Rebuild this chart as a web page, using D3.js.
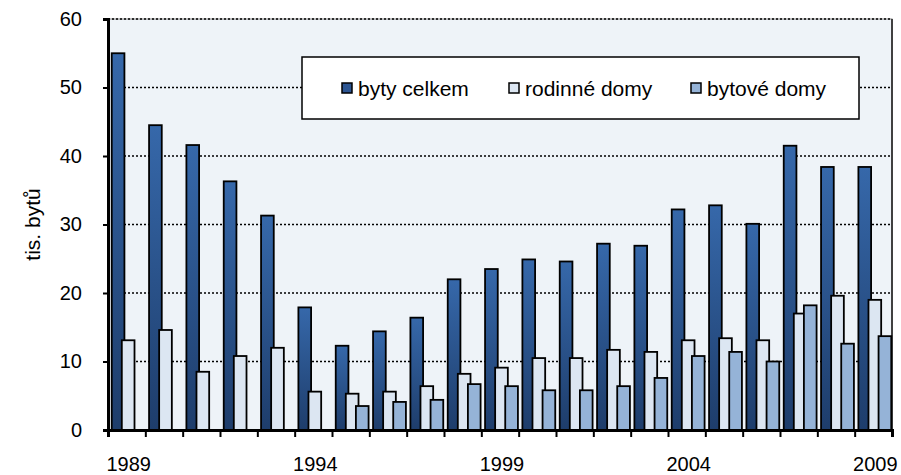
<!DOCTYPE html>
<html>
<head>
<meta charset="utf-8">
<script src="https://cdn.jsdelivr.net/npm/d3@7"></script>
<style>
  html, body { margin: 0; padding: 0; background: #fff; }
  svg { display: block; font-family: "Liberation Sans", Arial, sans-serif; }
</style>
</head>
<body>
<svg id="chart" width="901" height="475"></svg>
<script>
// Dokončené byty 1989–2009 (tis. bytů)
const years = d3.range(1989, 2010).map(String);
const bytyCelkem   = [55.0, 44.5, 41.6, 36.3, 31.3, 17.9, 12.3, 14.4, 16.4, 22.0, 23.5, 24.9, 24.6, 27.2, 26.9, 32.2, 32.8, 30.1, 41.5, 38.4, 38.4];
const rodinneDomy  = [13.1, 14.6, 8.5, 10.8, 12.0, 5.6, 5.3, 5.6, 6.4, 8.2, 9.1, 10.5, 10.5, 11.7, 11.4, 13.1, 13.4, 13.1, 17.0, 19.6, 19.0];
const bytoveDomy   = [null, null, null, null, null, null, 3.5, 4.1, 4.4, 6.7, 6.4, 5.8, 5.8, 6.4, 7.6, 10.8, 11.4, 10.0, 18.2, 12.6, 13.7];
const seriesNames  = ["byty celkem", "rodinné domy", "bytové domy"];
const yTicks       = [0, 10, 20, 30, 40, 50, 60];
const xLabelYears  = ["1989", "1994", "1999", "2004", "2009"];
const yTitle       = "tis. bytů";

const seriesValues = [bytyCelkem, rodinneDomy, bytoveDomy];
const fills = ["url(#gradDark)", "#DCE6F2", "#95B3D7"];

const svg = d3.select("#chart");
const plotL = 108, plotR = 892, plotT = 19, plotB = 430;

const defs = svg.append("defs");
const grad = defs.append("linearGradient").attr("id", "gradDark")
  .attr("x1", 0).attr("y1", 0).attr("x2", 0).attr("y2", 1);
grad.append("stop").attr("offset", "0%").attr("stop-color", "#3668AA");
grad.append("stop").attr("offset", "100%").attr("stop-color", "#1E3D6B");

const x = d3.scaleBand().domain(years).range([plotL, plotR]).paddingInner(0).paddingOuter(0);
const y = d3.scaleLinear().domain([0, 60]).range([plotB, plotT]);
const bw = x.bandwidth();

// plot area background
svg.append("rect")
  .attr("x", plotL).attr("y", plotT)
  .attr("width", plotR - plotL).attr("height", plotB - plotT)
  .attr("fill", "#EEF3F8")
  .attr("stroke", "#7F7F7F").attr("stroke-width", 1);

// dotted gridlines
svg.append("g").selectAll("line")
  .data(yTicks.filter(v => v > 0))
  .join("line")
  .attr("x1", plotL).attr("x2", plotR)
  .attr("y1", d => y(d)).attr("y2", d => y(d))
  .attr("stroke", "#000").attr("stroke-width", 1.5)
  .attr("stroke-dasharray", "2,2");

// right border
svg.append("line")
  .attr("x1", plotR).attr("x2", plotR).attr("y1", plotT).attr("y2", plotB)
  .attr("stroke", "#404040").attr("stroke-width", 2);

// bars
const barW = bw * 0.34, step = bw * 0.27, off = bw * 0.1;
seriesValues.forEach((vals, si) => {
  svg.append("g").selectAll("rect")
    .data(years.map((yr, i) => ({ yr, v: vals[i] })).filter(d => d.v != null))
    .join("rect")
    .attr("x", d => x(d.yr) + off + si * step)
    .attr("y", d => y(d.v))
    .attr("width", barW)
    .attr("height", d => y(0) - y(d.v))
    .attr("fill", fills[si])
    .attr("stroke", "#000").attr("stroke-width", 1.8);
});

// y axis
const yAxis = svg.append("g")
  .attr("transform", `translate(${plotL},0)`)
  .call(d3.axisLeft(y).tickValues(yTicks).tickSize(5).tickPadding(21));
yAxis.select(".domain").attr("stroke", "#000").attr("stroke-width", 3);
yAxis.selectAll(".tick line").attr("stroke", "#000").attr("stroke-width", 2);
yAxis.selectAll(".tick text").attr("font-size", 20).attr("fill", "#000")
  .attr("font-family", "Liberation Sans, Arial, sans-serif");

// x axis: ticks at category boundaries
const xb = d3.scaleLinear().domain([0, years.length]).range([plotL, plotR]);
const xAxis = svg.append("g")
  .attr("transform", `translate(0,${plotB})`)
  .call(d3.axisBottom(xb).tickValues(d3.range(years.length + 1)).tickSize(7).tickFormat(""));
xAxis.select(".domain").attr("stroke", "#000").attr("stroke-width", 3);
xAxis.selectAll(".tick line").attr("stroke", "#000").attr("stroke-width", 2);

// x labels under selected years
const xLab = svg.append("g")
  .attr("transform", `translate(0,${plotB})`)
  .call(d3.axisBottom(x).tickValues(xLabelYears).tickSize(0).tickPadding(27));
xLab.select(".domain").remove();
xLab.selectAll(".tick text").attr("font-size", 20).attr("fill", "#000")
  .attr("dx", 2)
  .attr("font-family", "Liberation Sans, Arial, sans-serif");

// y title
svg.append("text")
  .attr("transform", `translate(40,${(plotT + plotB) / 2}) rotate(-90)`)
  .attr("text-anchor", "middle")
  .attr("font-size", 21)
  .attr("fill", "#000")
  .text(yTitle);

// legend
const lg = svg.append("g");
lg.append("rect")
  .attr("x", 302).attr("y", 57).attr("width", 557).attr("height", 62)
  .attr("fill", "#fff").attr("stroke", "#000").attr("stroke-width", 1.5);
const legendX = [342, 509, 691];
seriesNames.forEach((name, i) => {
  lg.append("rect")
    .attr("x", legendX[i]).attr("y", 83).attr("width", 10).attr("height", 10)
    .attr("fill", fills[i] === "url(#gradDark)" ? "#2C5592" : fills[i])
    .attr("stroke", "#000").attr("stroke-width", 1.5);
  lg.append("text")
    .attr("x", legendX[i] + 16).attr("y", 96)
    .attr("font-size", 21).attr("fill", "#000")
    .text(name);
});
</script>
</body>
</html>
